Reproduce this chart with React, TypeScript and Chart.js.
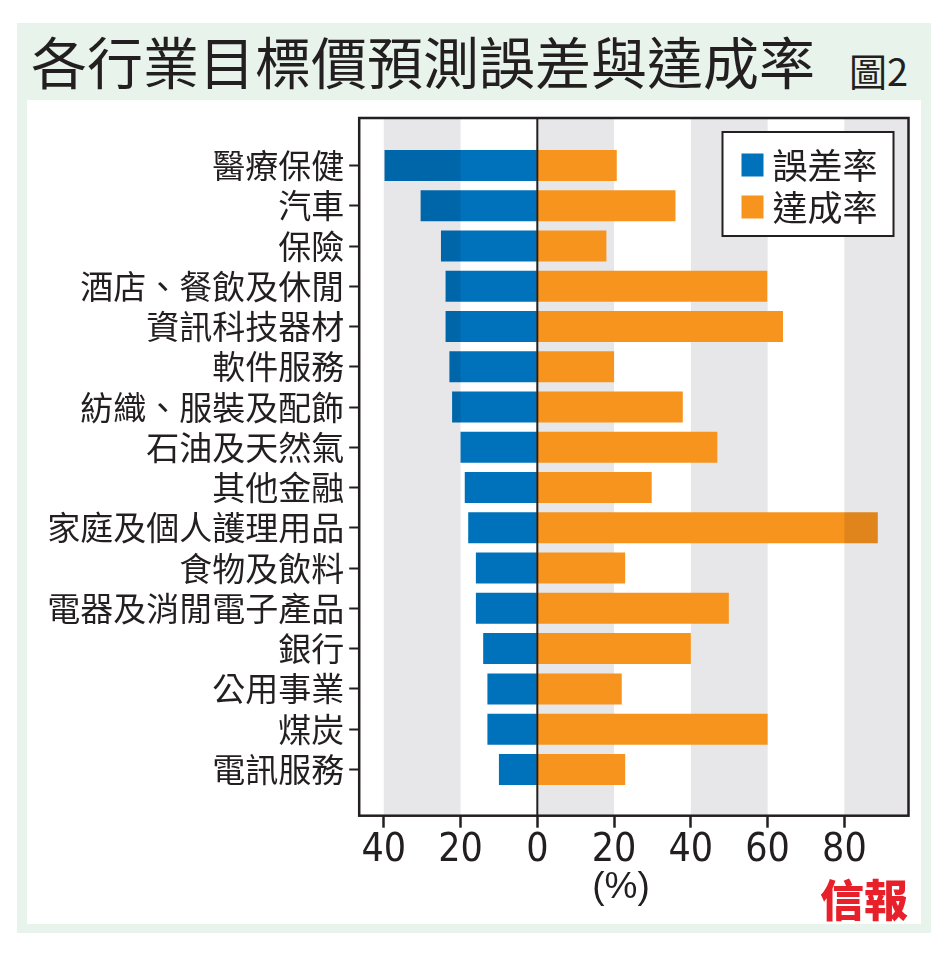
import React, { useEffect, useRef } from 'react';
import { Chart, registerables } from 'chart.js';
Chart.register(...registerables);

// 行業（由上至下）
const categories = [
  '醫療保健', '汽車', '保險', '酒店、餐飲及休閒', '資訊科技器材', '軟件服務',
  '紡織、服裝及配飾', '石油及天然氣', '其他金融', '家庭及個人護理用品', '食物及飲料',
  '電器及消閒電子產品', '銀行', '公用事業', '煤炭', '電訊服務',
];
// 誤差率 (%)，畫在零線左邊
const errorRate = [39.8, 30.4, 25.1, 23.9, 23.9, 22.9, 22.2, 20.0, 18.9, 18.0, 16.0, 16.0, 14.1, 13.0, 13.0, 10.0];
// 達成率 (%)
const hitRate = [20.7, 36.0, 18.0, 59.9, 64.0, 20.0, 37.9, 46.9, 29.8, 88.7, 22.9, 49.9, 40.0, 22.0, 60.0, 22.9];
const seriesNames = ['誤差率', '達成率'];
const xTicks = [-40, -20, 0, 20, 40, 60, 80];

const INK = '#231f20';
const BLUE = '#0071bb';
const ORANGE = '#f7941e';
const BAND = '#e7e6e8';
const CJK = "'Noto Sans CJK TC', 'Noto Sans CJK SC', sans-serif";
const NARROW = "'Liberation Sans Narrow', 'DejaVu Sans Condensed', 'Liberation Sans', sans-serif";

// 灰色間條：每隔一格；最外兩格疊在柱上（相乘）
const bandPlugin = {
  id: 'bands',
  beforeDatasetsDraw(chart: any) {
    const { ctx, chartArea, scales } = chart;
    const step = xTicks[1] - xTicks[0];
    const bands = xTicks.filter((_, i) => i % 2 === 0);
    ctx.save();
    ctx.fillStyle = BAND;
    bands.forEach((v, i) => {
      if (i === 0 || i === bands.length - 1) return;
      const a = scales.x.getPixelForValue(v);
      const b = Math.min(scales.x.getPixelForValue(v + step), chartArea.right);
      ctx.fillRect(a, chartArea.top, b - a, chartArea.bottom - chartArea.top);
    });
    ctx.restore();
  },
  afterDatasetsDraw(chart: any) {
    const { ctx, chartArea, scales, data } = chart;
    const step = xTicks[1] - xTicks[0];
    const bands = xTicks.filter((_, i) => i % 2 === 0);
    ctx.save();
    ctx.globalCompositeOperation = 'multiply';
    ctx.fillStyle = BAND;
    [bands[0], bands[bands.length - 1]].forEach((v) => {
      const a = Math.max(scales.x.getPixelForValue(v), chartArea.left);
      const b = Math.min(scales.x.getPixelForValue(v + step), chartArea.right);
      ctx.fillRect(a, chartArea.top, b - a, chartArea.bottom - chartArea.top);
    });
    ctx.restore();

    // 零線
    ctx.save();
    const z = scales.x.getPixelForValue(0);
    ctx.strokeStyle = INK;
    ctx.lineWidth = 2;
    ctx.beginPath();
    ctx.moveTo(z, chartArea.top);
    ctx.lineTo(z, chartArea.bottom);
    ctx.stroke();
    // 外框
    ctx.lineWidth = 2.5;
    ctx.strokeRect(chartArea.left, chartArea.top, chartArea.right - chartArea.left, chartArea.bottom - chartArea.top);

    // 圖例
    const bx = chartArea.right - 186;
    const by = chartArea.top + 14;
    ctx.fillStyle = '#fff';
    ctx.fillRect(bx, by, 171, 104);
    ctx.lineWidth = 2;
    ctx.strokeRect(bx, by, 171, 104);
    ctx.font = `35px ${CJK}`;
    ctx.textBaseline = 'middle';
    ctx.textAlign = 'left';
    data.datasets.forEach((ds: any, i: number) => {
      const cy = by + 33 + i * 42;
      ctx.fillStyle = ds.backgroundColor;
      ctx.fillRect(bx + 19, cy - 11.5, 22, 23);
      ctx.fillStyle = INK;
      ctx.fillText(ds.label, bx + 50, cy + 1);
    });
    ctx.restore();
  },
};

const BarChart = () => {
  const canvasRef = useRef<HTMLCanvasElement | null>(null);

  useEffect(() => {
    if (!canvasRef.current) return;
    const chart = new Chart(canvasRef.current, {
      type: 'bar',
      data: {
        datasets: [
          {
            label: seriesNames[0],
            data: errorRate.map((v, i) => ({ x: -v, y: i })),
            backgroundColor: BLUE,
            borderWidth: 0,
          },
          {
            label: seriesNames[1],
            data: hitRate.map((v, i) => ({ x: v, y: i })),
            backgroundColor: ORANGE,
            borderWidth: 0,
          },
        ],
      },
      options: {
        indexAxis: 'y',
        animation: false,
        responsive: false,
        layout: { padding: { top: 118, right: 40.5, left: 0, bottom: 0 } },
        datasets: { bar: { barPercentage: 0.77, categoryPercentage: 1 } },
        plugins: { legend: { display: false }, tooltip: { enabled: false } },
        scales: {
          x: {
            type: 'linear',
            stacked: true,
            offset: false,
            min: -46.4,
            max: 96.7,
            afterBuildTicks: (s: any) => { s.ticks = xTicks.map((v) => ({ value: v })); },
            afterFit: (s: any) => { s.height = 141.3; },
            border: { display: false },
            grid: { offset: false, drawOnChartArea: false, tickLength: 12, tickColor: INK, tickWidth: 2.5 },
            ticks: {
              autoSkip: false,
              maxRotation: 0,
              padding: 0,
              color: INK,
              font: { family: NARROW, size: 39, lineHeight: 1.2 },
              callback: (v: any) => String(Math.abs(Number(v))),
            },
          },
          y: {
            type: 'linear',
            stacked: true,
            reverse: true,
            offset: false,
            min: -1.18,
            max: 16.15,
            afterBuildTicks: (s: any) => { s.ticks = categories.map((_, i) => ({ value: i })); },
            afterFit: (s: any) => { s.width = 359.2; },
            border: { display: false },
            grid: { offset: false, drawOnChartArea: false, tickLength: 10, tickColor: INK, tickWidth: 2 },
            ticks: {
              autoSkip: false,
              padding: 5,
              color: INK,
              font: { family: CJK, size: 33 },
              callback: (v: any) => categories[Number(v)] ?? '',
            },
          },
        },
      } as any,
      plugins: [bandPlugin],
    });
    return () => chart.destroy();
  }, []);

  return <canvas ref={canvasRef} width={949} height={957} style={{ position: 'absolute', left: 0, top: 0 }} />;
};

const App = () => {
  return (
    <div style={{ position: 'absolute', left: 0, top: 0, width: 949, height: 957, background: '#fff', fontFamily: CJK, color: INK }}>
      <div style={{ position: 'absolute', left: 17, top: 23, width: 914, height: 910, background: '#e7f3eb' }} />
      <div style={{ position: 'absolute', left: 27, top: 100, width: 894, height: 824, background: '#fff' }} />
      <div style={{ position: 'absolute', left: 31, top: 32, fontSize: 56, lineHeight: '56px', whiteSpace: 'nowrap' }}>
        各行業目標價預測誤差與達成率
      </div>
      <div style={{ position: 'absolute', left: 849, top: 51, fontSize: 38, lineHeight: '38px', whiteSpace: 'nowrap' }}>
        圖2
      </div>
      <BarChart />
      <div style={{ position: 'absolute', left: 621, top: 867, transform: 'translateX(-50%)', fontFamily: "'Liberation Sans', sans-serif", fontSize: 37, lineHeight: '37px' }}>
        (%)
      </div>
      <div style={{ position: 'absolute', left: 820, top: 876, fontSize: 44, lineHeight: '44px', fontWeight: 900, color: '#e8202a', whiteSpace: 'nowrap' }}>
        信報
      </div>
    </div>
  );
};

export default App;
